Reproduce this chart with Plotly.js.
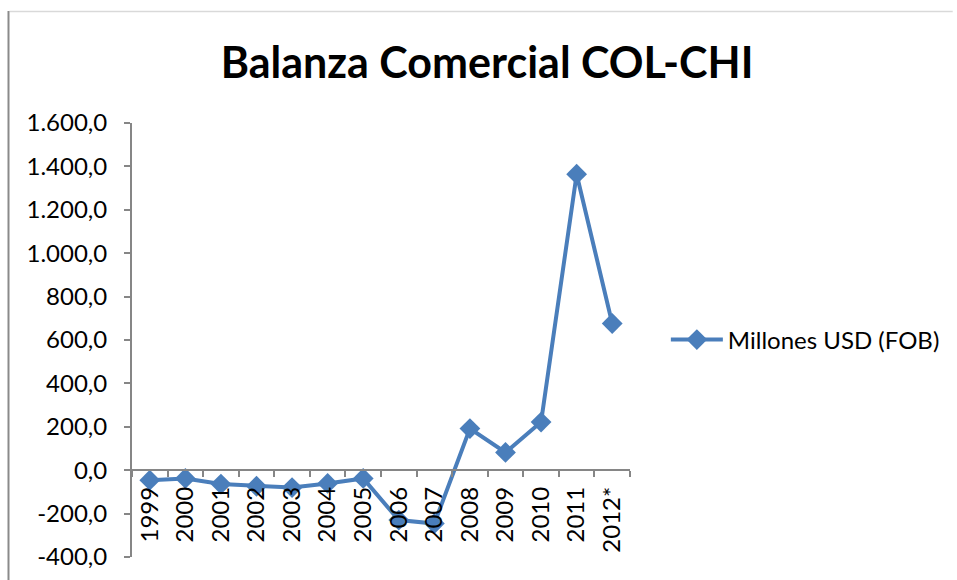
<!DOCTYPE html>
<html>
<head>
<meta charset="utf-8">
<script src="https://cdn.plot.ly/plotly-3.0.1.min.js"></script>
<style>
html,body{margin:0;padding:0;background:#fff;}
#chart{width:957px;height:580px;}
</style>
</head>
<body>
<div id="chart"></div>
<script>
var years = ["1999","2000","2001","2002","2003","2004","2005","2006","2007","2008","2009","2010","2011","2012*"];
var values = [-46, -38, -64, -74, -80, -61, -38, -230, -246, 192, 82, 222, 1364, 676];
var seriesName = "Millones USD (FOB)";
var yTickVals = [-400, -200, 0, 200, 400, 600, 800, 1000, 1200, 1400, 1600];
var yTickText = ["-400,0","-200,0","0,0","200,0","400,0","600,0","800,0","1.000,0","1.200,0","1.400,0","1.600,0"];

var W = 957, H = 580;
var ml = 132, mr = 325, mt = 123, mb = 23;
var pw = W - ml - mr, ph = H - mt - mb;
function px(x){ return (x - ml) / pw; }
function py(y){ return (H - mb - y) / ph; }

var trace = {
  x: years, y: values, name: seriesName, type: 'scatter', mode: 'lines+markers',
  line: {color: '#4A7EBB', width: 4},
  marker: {symbol: 'diamond', size: 16, color: '#4A7EBB'},
  showlegend: true
};

var axFont = {family: 'Lato, "Open Sans", sans-serif', size: 24, color: '#000'};

var layout = {
  width: W, height: H,
  margin: {l: ml, r: mr, t: mt, b: mb, pad: 0},
  paper_bgcolor: '#fff', plot_bgcolor: '#fff',
  title: {text: '<b>Balanza Comercial COL-CHI</b>', font: {family: 'Lato, sans-serif', size: 43, color: '#000'},
          xref: 'container', x: 0.509, xanchor: 'center', yref: 'container', y: 1 - 63/580, yanchor: 'middle'},
  xaxis: {type: 'category', anchor: 'free', position: 0.2, showgrid: false, zeroline: false,
          showline: true, linecolor: '#868686', linewidth: 2,
          ticks: 'outside', tickson: 'boundaries', ticklen: 6, tickcolor: '#868686', tickwidth: 2,
          tickangle: -90, tickfont: axFont, ticklabelstandoff: 6, range: [-0.5, 13.5], fixedrange: true},
  yaxis: {range: [-400, 1600], showgrid: false, zeroline: false, showline: true, linecolor: '#868686', linewidth: 2,
          ticks: 'outside', ticklen: 6, tickcolor: '#868686', tickwidth: 2, ticklabelstandoff: 12,
          tickvals: yTickVals, ticktext: yTickText, tickfont: axFont, fixedrange: true},
  legend: {x: px(668), xanchor: 'left', y: py(340), yanchor: 'middle', font: axFont,
           bgcolor: 'rgba(0,0,0,0)', itemwidth: 52},
  shapes: [
    {type: 'line', xref: 'paper', yref: 'paper', x0: px(9), x1: px(956), y0: py(11.5), y1: py(11.5),
     line: {color: '#d9d9d9', width: 1.5}},
    {type: 'line', xref: 'paper', yref: 'paper', x0: px(8), x1: px(8), y0: py(11), y1: py(580),
     line: {color: '#8a8a8a', width: 2}}
  ]
};

Plotly.newPlot('chart', [trace], layout, {displayModeBar: false, staticPlot: true});
</script>
</body>
</html>
